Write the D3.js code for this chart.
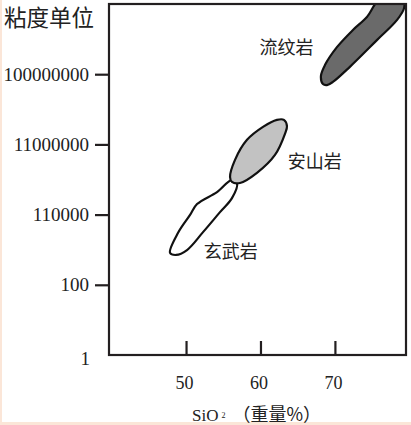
<!DOCTYPE html>
<html><head><meta charset="utf-8">
<script src="https://cdn.jsdelivr.net/npm/d3@7"></script>
<style>
html,body{margin:0;padding:0;background:#fff;}
svg{display:block;}
</style></head>
<body>
<svg id="chart" width="411" height="425"></svg>
<script>
// ---- data ----
const xTickValues = [50, 60, 70];
const yTickValues = [0, 2, 4, 6, 8];          // log10 viscosity
const yTickLabels = ["1", "100", "110000", "11000000", "100000000"];
const yTitle = "粘度单位";
const rockNames = ["玄武岩", "安山岩", "流纹岩"];

// outlines of the fields: SiO2 (wt%) and log10 viscosity
const basaltSiO2 = [47.85, 48.93, 50.54, 51.48, 54.16, 56.17, 56.85, 56.17, 54.56, 52.28, 50.13, 48.66];
const basaltLogV = [2.91, 3.48, 3.99, 4.30, 4.64, 4.99, 4.90, 4.47, 4.07, 3.50, 2.99, 2.85];

const andesiteSiO2 = [56.17, 55.91, 56.58, 58.19, 60.34, 62.21, 63.15, 63.56, 63.29, 61.95, 59.53, 57.25];
const andesiteLogV = [4.93, 5.07, 5.56, 6.13, 6.50, 6.70, 6.70, 6.52, 6.30, 5.70, 5.19, 4.90];

const rhyoliteSiO2 = [68.39, 68.12, 68.66, 70.27, 72.42, 74.30, 76.1, 79.1, 79.3, 78.32, 75.64, 72.01, 69.73, 68.93];
const rhyoliteLogV = [7.72, 7.95, 8.26, 8.77, 9.26, 9.63, 10.15, 10.15, 9.89, 9.54, 8.97, 8.21, 7.78, 7.69];

// label anchor (SiO2, log10 viscosity)
const labelSiO2 = [56.0, 67.3, 63.5];
const labelLogV = [2.99, 5.55, 8.8];

// ---- drawing ----
const svg = d3.select("#chart");
const L = 109, R = 406, T = 4, B = 355;
const x = d3.scaleLinear().domain([39.65, 79.55]).range([L, R]);
const y = d3.scaleLinear().domain([0, 10]).range([B, T]);
const ink = "#231f20";

// faint page edge
svg.append("rect").attr("x",0).attr("y",0).attr("width",2).attr("height",425).attr("fill","#fbe6d8");
svg.append("rect").attr("x",0).attr("y",422).attr("width",411).attr("height",3).attr("fill","#fbe6d8");

svg.append("defs").append("clipPath").attr("id","plotclip")
  .append("rect").attr("x",L).attr("y",T).attr("width",R-L).attr("height",B-T);

const fields = [
  {xs: basaltSiO2, ys: basaltLogV, fill: "#ffffff"},
  {xs: andesiteSiO2, ys: andesiteLogV, fill: "#c2c2c2"},
  {xs: rhyoliteSiO2, ys: rhyoliteLogV, fill: "#6a6a6a"}
];
const line = d3.line()
  .x(d => x(d[0])).y(d => y(d[1]))
  .curve(d3.curveCatmullRomClosed.alpha(0.5));

const g = svg.append("g").attr("clip-path","url(#plotclip)");
fields.forEach(f => {
  const pts = f.xs.map((v,i) => [v, f.ys[i]]);
  g.append("path").attr("d", line(pts))
    .attr("fill", f.fill).attr("stroke", "#111").attr("stroke-width", 2.2)
    .attr("stroke-linejoin","round");
});

// labels
rockNames.forEach((n,i) => {
  svg.append("text").attr("x", x(labelSiO2[i])).attr("y", y(labelLogV[i]))
    .attr("text-anchor","middle").attr("dominant-baseline","central")
    .attr("font-family","'Noto Sans CJK SC', sans-serif").attr("font-size",18)
    .attr("fill","#222").text(n);
});

// frame
svg.append("rect").attr("x",L).attr("y",T).attr("width",R-L).attr("height",B-T)
  .attr("fill","none").attr("stroke",ink).attr("stroke-width",2.2);

// y axis
const yAxis = d3.axisLeft(y).tickValues(yTickValues)
  .tickFormat((d,i) => yTickLabels[i]).tickSize(14).tickPadding(6);
const ya = svg.append("g").attr("transform",`translate(${L},0)`).call(yAxis);
ya.select(".domain").remove();
ya.selectAll(".tick line").attr("stroke",ink).attr("stroke-width",2.2)
  .filter(d => d === 0).remove();
ya.selectAll(".tick text").attr("font-family","'Liberation Serif', serif")
  .attr("font-size",19).attr("fill","#222");
ya.selectAll(".tick").filter(d => d === 0).select("text").attr("x",-19).attr("dy","0.5em");

// x axis (inward ticks)
const xAxis = d3.axisTop(x).tickValues(xTickValues).tickSize(14).tickFormat(d3.format("d"));
const xa = svg.append("g").attr("transform",`translate(0,${B})`).call(xAxis);
xa.select(".domain").remove();
xa.selectAll(".tick line").attr("stroke",ink).attr("stroke-width",2.2);
xa.selectAll(".tick text").attr("y",21).attr("dy","0.71em").attr("dx",-2)
  .attr("font-family","'Liberation Serif', serif").attr("font-size",18).attr("fill","#222");

// titles
svg.append("text").attr("x",4).attr("y",26)
  .attr("font-family","'Noto Sans CJK SC', sans-serif").attr("font-size",22.5).attr("fill","#222")
  .text(yTitle);

const xt = svg.append("text").attr("x",192).attr("y",421)
  .attr("font-family","'Liberation Serif','Noto Sans CJK SC', serif").attr("font-size",17).attr("fill","#222");
xt.append("tspan").text("SiO");
xt.append("tspan").attr("font-size",8).attr("dx",3).attr("dy",-3).text("2");
xt.append("tspan").attr("dy",3).attr("dx",7).attr("font-family","'Noto Sans CJK SC', sans-serif").attr("font-size",18).text("（重量%）");
</script>
</body></html>
